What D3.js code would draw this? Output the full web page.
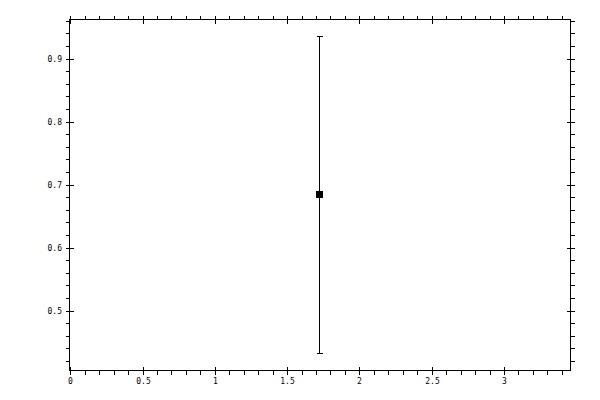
<!DOCTYPE html>
<html>
<head>
<meta charset="utf-8">
<script src="https://cdn.jsdelivr.net/npm/d3@7"></script>
<style>
  body { margin: 0; background: #fff; }
  svg { display: block; }
  text { font-family: "DejaVu Sans Mono", monospace; font-size: 8px; fill: #000; }
</style>
</head>
<body>
<svg id="chart"></svg>
<script>
// data
const xValues = [1.724];
const yValues = [0.684];
const yLow = [0.432];
const yHigh = [0.936];
const xTickLabels = ["0", "0.5", "1", "1.5", "2", "2.5", "3"];
const yTickLabels = ["0.5", "0.6", "0.7", "0.8", "0.9"];

const width = 600, height = 400;
const plot = {left: 69.5, right: 570.5, top: 19.5, bottom: 370.5};

const svg = d3.select('#chart')
    .attr('width', width)
    .attr('height', height);

const x = d3.scaleLinear().domain([-0.005, 3.46]).range([plot.left, plot.right]);
const y = d3.scaleLinear().domain([0.405, 0.962]).range([plot.bottom, plot.top]);

const g = svg.append('g')
    .attr('shape-rendering', 'crispEdges')
    .attr('stroke', '#000')
    .attr('stroke-width', 1);

// frame
g.append('rect')
    .attr('x', plot.left)
    .attr('y', plot.top)
    .attr('width', plot.right - plot.left)
    .attr('height', plot.bottom - plot.top)
    .attr('fill', 'none');

const snap = v => Math.round(v) + 0.5;

// x ticks (minor every 0.1, major every 0.5)
const xMinor = d3.range(0, 35).map(i => i / 10).filter(v => x(v) <= plot.right);
const xMajor = xTickLabels.map(Number);
xMinor.forEach(v => {
    const px = snap(x(v));
    const major = xMajor.some(m => Math.abs(m - v) < 1e-9);
    // bottom
    g.append('line').attr('x1', px).attr('x2', px)
        .attr('y1', major ? plot.bottom - 4 : plot.bottom).attr('y2', plot.bottom + 4);
    // top
    g.append('line').attr('x1', px).attr('x2', px)
        .attr('y1', major ? plot.top + 4 : plot.top).attr('y2', plot.top - 4);
});

// y ticks (minor every 0.02, major every 0.1)
const yMinor = d3.range(21, 49).map(i => i / 50).filter(v => y(v) >= plot.top && y(v) <= plot.bottom);
const yMajor = yTickLabels.map(Number);
yMinor.forEach(v => {
    const py = snap(y(v));
    const major = yMajor.some(m => Math.abs(m - v) < 1e-9);
    // left
    g.append('line').attr('y1', py).attr('y2', py)
        .attr('x1', major ? plot.left + 4 : plot.left).attr('x2', plot.left - 4);
    // right
    g.append('line').attr('y1', py).attr('y2', py)
        .attr('x1', major ? plot.right - 4 : plot.right).attr('x2', plot.right + 4);
});

// tick labels
svg.selectAll('.xlab')
    .data(xTickLabels)
    .enter()
    .append('text')
        .attr('x', d => snap(x(+d)))
        .attr('y', 384)
        .attr('text-anchor', 'middle')
        .text(d => d);

svg.selectAll('.ylab')
    .data(yTickLabels)
    .enter()
    .append('text')
        .attr('x', 62)
        .attr('y', d => snap(y(+d)) + 2.5)
        .attr('text-anchor', 'end')
        .text(d => d);

// error bar
const pts = xValues.map((d, i) => ({x: d, y: yValues[i], lo: yLow[i], hi: yHigh[i]}));
pts.forEach(d => {
    const px = snap(x(d.x));
    g.append('line').attr('x1', px).attr('x2', px).attr('y1', snap(y(d.lo))).attr('y2', snap(y(d.hi)));
    g.append('line').attr('x1', px - 2.5).attr('x2', px + 3).attr('y1', snap(y(d.lo))).attr('y2', snap(y(d.lo)));
    g.append('line').attr('x1', px - 2.5).attr('x2', px + 3).attr('y1', snap(y(d.hi))).attr('y2', snap(y(d.hi)));
    svg.append('rect')
        .attr('shape-rendering', 'crispEdges')
        .attr('x', Math.round(x(d.x)) - 3)
        .attr('y', Math.round(y(d.y)) - 4)
        .attr('width', 7)
        .attr('height', 7)
        .attr('fill', '#000');
});
</script>
</body>
</html>
